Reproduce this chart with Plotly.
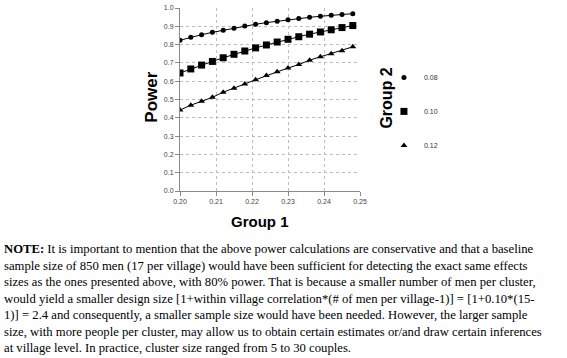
import plotly.graph_objects as go

group1 = [0.200, 0.203, 0.206, 0.209, 0.212, 0.215, 0.218, 0.221, 0.224,
          0.227, 0.230, 0.233, 0.236, 0.239, 0.242, 0.245, 0.248]
power_008 = [0.824, 0.840, 0.854, 0.867, 0.879, 0.890, 0.901, 0.911, 0.920,
             0.928, 0.936, 0.943, 0.949, 0.955, 0.960, 0.965, 0.969]
power_010 = [0.645, 0.667, 0.688, 0.708, 0.728, 0.747, 0.765, 0.782, 0.798,
             0.814, 0.829, 0.843, 0.857, 0.869, 0.881, 0.893, 0.904]
power_012 = [0.442, 0.469, 0.490, 0.512, 0.540, 0.561, 0.585, 0.608, 0.631,
             0.651, 0.672, 0.691, 0.715, 0.733, 0.750, 0.766, 0.788]
group2_labels = ["0.08", "0.10", "0.12"]
x_ticks = [0.20, 0.21, 0.22, 0.23, 0.24, 0.25]
y_ticks = [0.0, 0.1, 0.2, 0.3, 0.4, 0.5, 0.6, 0.7, 0.8, 0.9, 1.0]

note_lines = [
    "<b>NOTE:</b> It is important to mention that the above power calculations are conservative and that a baseline",
    "sample size of 850 men (17 per village) would have been sufficient for detecting the exact same effects",
    "sizes as the ones presented above, with 80% power. That is because a smaller number of men per cluster,",
    "would yield a smaller design size [1+within village correlation*(# of men per village-1)] = [1+0.10*(15-",
    "1)] = 2.4 and consequently, a smaller sample size would have been needed. However, the larger sample",
    "size, with more people per cluster, may allow us to obtain certain estimates or/and draw certain inferences",
    "at village level. In practice, cluster size ranged from 5 to 30 couples.",
]

series = [power_008, power_010, power_012]
symbols = ["circle", "square", "triangle-up"]
msizes = [5, 7, 6]

fig = go.Figure()
for vals, sym, ms in zip(series, symbols, msizes):
    fig.add_trace(go.Scatter(
        x=group1, y=vals, mode="lines+markers",
        line=dict(color="black", width=1),
        marker=dict(symbol=sym, size=ms, color="black"),
        showlegend=False, hoverinfo="skip"))
for sym, ms, lab in zip(symbols, msizes, group2_labels):
    fig.add_trace(go.Scatter(
        x=[None], y=[None], mode="markers", name=lab, legendgroup=lab,
        marker=dict(symbol=sym, size=ms, color="black")))

axis_common = dict(
    showline=True, linecolor="#8a8a8a", linewidth=1,
    ticks="outside", ticklen=4, tickcolor="#8a8a8a",
    showgrid=True, gridcolor="#bdbdbd", griddash="3px,3px", gridwidth=1,
    zeroline=False, tickfont=dict(family="Arial", size=7, color="#444"),
)

fig.update_layout(
    width=567, height=358,
    margin=dict(l=180, r=207, t=4, b=167),
    paper_bgcolor="white", plot_bgcolor="white",
    xaxis=dict(range=[0.20, 0.25], tickvals=x_ticks, tickformat=".2f", **axis_common),
    yaxis=dict(range=[0.0, 1.0], tickvals=y_ticks, tickformat=".1f", **axis_common),
    legend=dict(x=1.133, y=0.70, xanchor="left", yanchor="top",
                font=dict(family="Arial", size=7, color="#333"),
                tracegroupgap=15, itemwidth=30, bgcolor="rgba(0,0,0,0)"),
)

fig.add_annotation(text="<b>Power</b>", xref="paper", yref="paper", x=-0.158, y=0.513,
                   xanchor="center", yanchor="middle",
                   textangle=-90, showarrow=False,
                   font=dict(family="Arial", size=17, color="black"))
fig.add_annotation(text="<b>Group 1</b>", xref="paper", yref="paper", x=0.444, y=-0.166,
                   xanchor="center", yanchor="middle",
                   showarrow=False, font=dict(family="Arial", size=15, color="black"))
fig.add_annotation(text="<b>Group 2</b>", xref="paper", yref="paper", x=1.15, y=0.505,
                   xanchor="center", yanchor="middle",
                   textangle=-90, showarrow=False,
                   font=dict(family="Arial", size=16, color="black"))
fig.add_annotation(text="<br>".join(note_lines), xref="paper", yref="paper",
                   x=-0.989, y=-0.267, xanchor="left", yanchor="top", align="left",
                   showarrow=False,
                   font=dict(family="Liberation Serif", size=12.7, color="black"))

fig.write_html("out.html",
               config={"displayModeBar": False},
               post_script="document.body.style.margin='0';document.body.style.overflow='hidden';")
